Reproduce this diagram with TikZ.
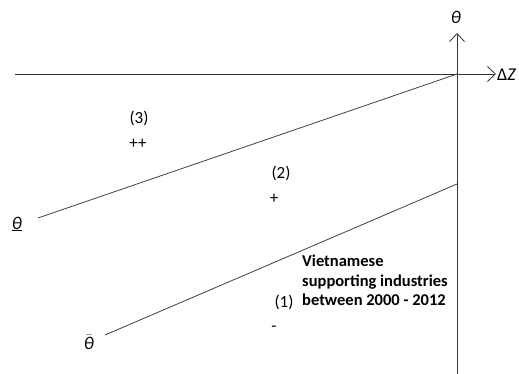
\documentclass[tikz,border=0pt]{standalone}
\usepackage{fontspec}
\setmainfont{Carlito}
\usetikzlibrary{arrows.meta}
\begin{document}
\begin{tikzpicture}[x=1pt,y=-1pt,
  axis/.style={line width=0.8pt,draw=black!80,-{Straight Barb[length=8pt,width=15pt,line width=0.8pt]}},
  curve/.style={line width=0.8pt,draw=black!75},
  lbl/.style={font=\fontsize{17}{20}\selectfont,inner sep=0pt},
  sym/.style={font=\fontsize{18}{20}\selectfont,inner sep=0pt}]
\useasboundingbox (0,0) rectangle (519,374);
\coordinate (xl) at (15,74);
\coordinate (xr) at (496,74);
\coordinate (yb) at (457,374);
\coordinate (yt) at (457,33);
\coordinate (o) at (457,74);
\coordinate (a1) at (38,218);
\coordinate (b0) at (457,184);
\coordinate (b1) at (105,335);
\draw[axis] (xl) -- (xr);
\draw[axis] (yb) -- (yt);
\draw[curve] (a1) -- (o);
\draw[curve] (b1) -- (b0);
\node[sym] (th) at (456,17) {\textit{θ}};
\node[sym,anchor=west] (dz) at (497,75) {Δ\textit{Z}};
\node[sym] (thl) at (17,224) {$\underline{\hbox{\itshape θ}}$};
\node[sym] (thb) at (89,342) {$\bar{\hbox{\itshape θ}}$};
\node[lbl] (r3) at (139,118) {(3)};
\node[lbl] (p3) at (138,144) {++};
\node[lbl] (r2) at (281,173) {(2)};
\node[lbl] (p2) at (274,199) {+};
\node[lbl] (r1) at (284,302) {(1)};
\node[lbl] (p1) at (274,329) {-};
\node[lbl,anchor=north west,align=left,font=\fontsize{16.5}{19.5}\selectfont\bfseries] (txt) at (302,255) {Vietnamese\\supporting industries\\between 2000 - 2012};
\end{tikzpicture}
\end{document}
